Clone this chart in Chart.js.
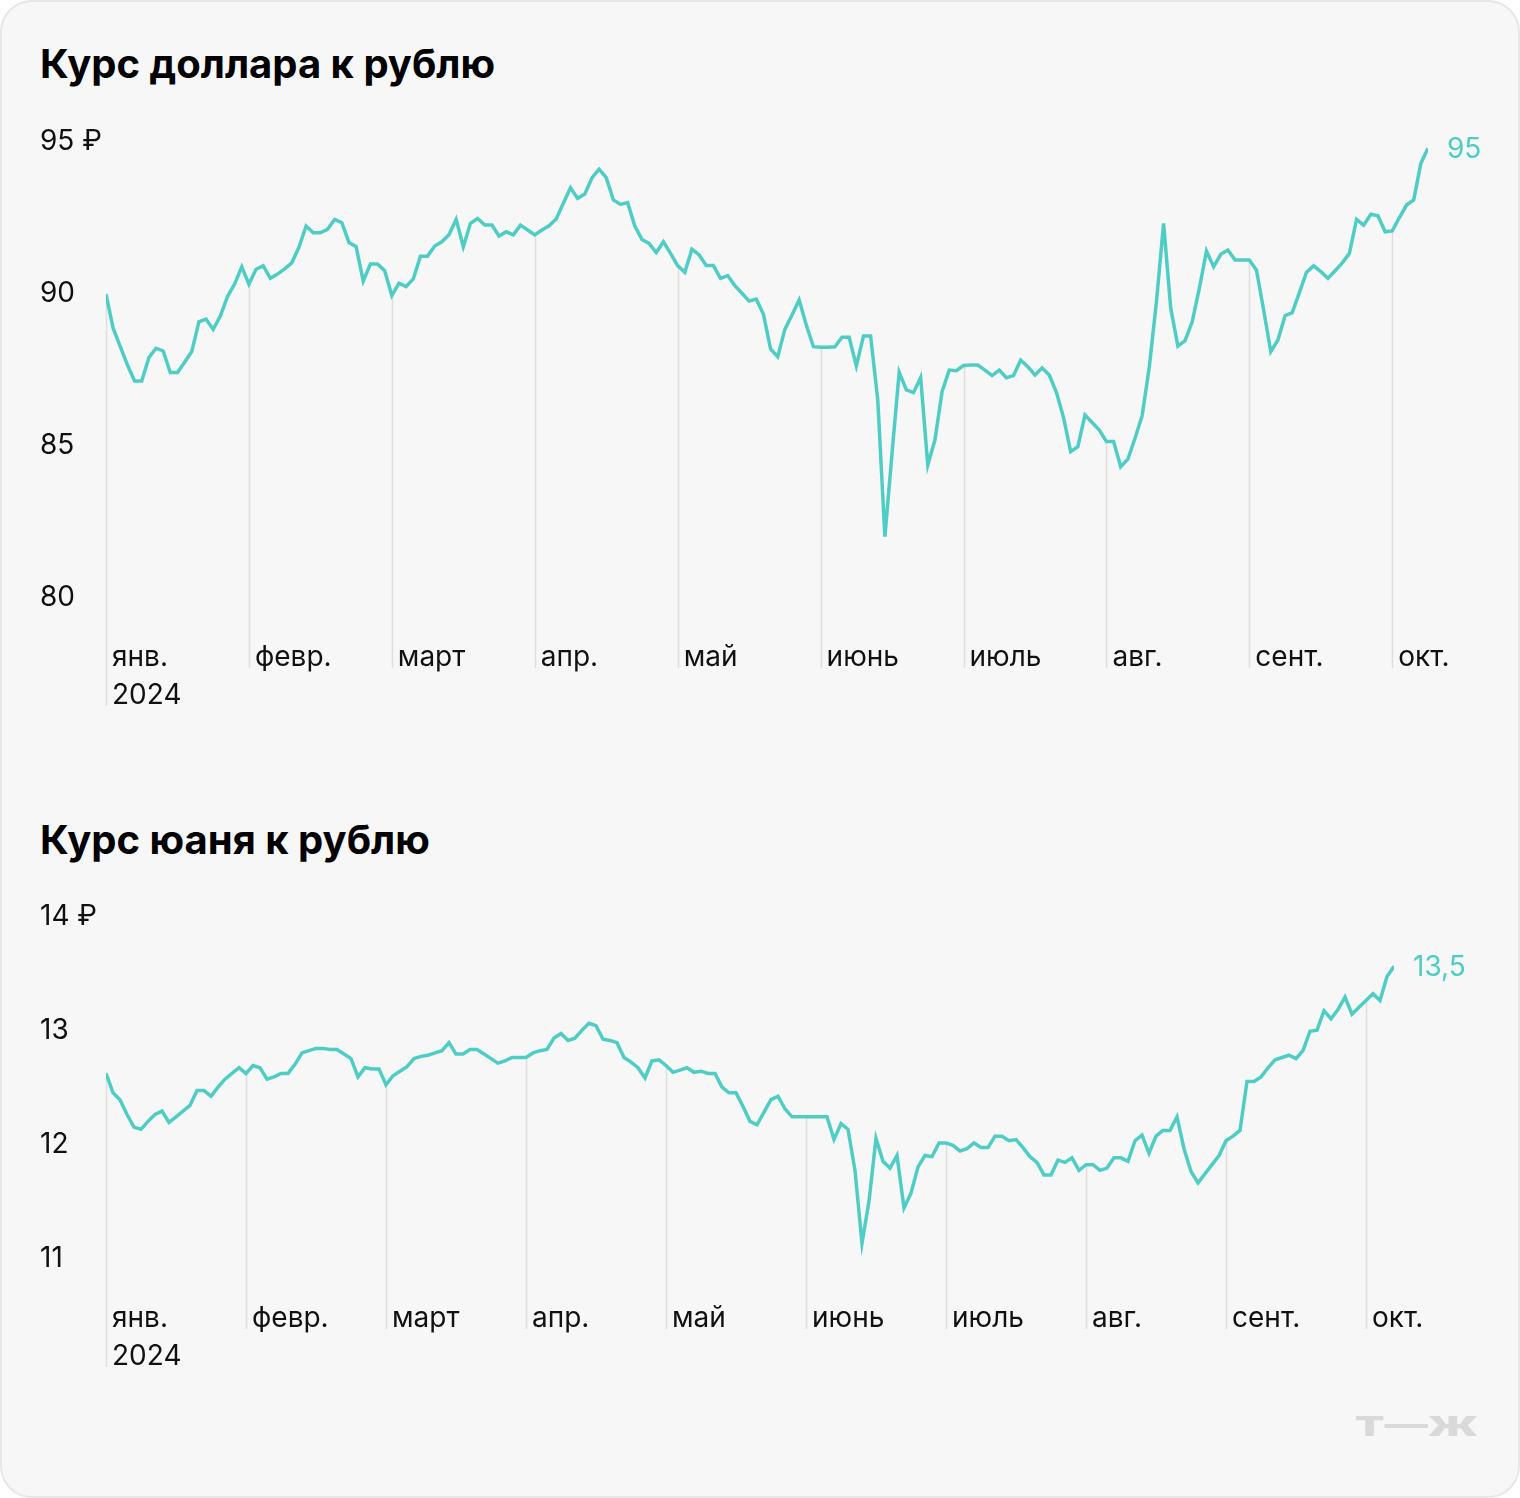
<!DOCTYPE html>
<html lang="ru">
<head>
  <meta charset="UTF-8">
  <title>Курс доллара и юаня к рублю</title>
  <script src="https://cdn.jsdelivr.net/npm/chart.js@4.4.1/dist/chart.umd.min.js"></script>
  <style>
    html, body { margin: 0; padding: 0; background: #ffffff; }
    .card {
      position: absolute; left: 0; top: 0;
      width: 1516px; height: 1494px;
      border: 2px solid #e7e7e7; border-radius: 32px;
      background: #f7f7f7; overflow: hidden;
    }
    .title {
      position: absolute; left: 38px; margin: 0;
      font-family: Inter, sans-serif; font-weight: 700;
      font-size: 40px; line-height: 40px; color: #000;
    }
    canvas { position: absolute; left: -2px; }
    .logo {
      position: absolute; right: 40px; top: 1408px;
      font-family: Inter, sans-serif; font-weight: 900; font-size: 27px;
      color: #d9d9d9; transform: scaleX(1.6); transform-origin: right center;
    }
  </style>
</head>
<body>
<div class="card">
  <h2 class="title" style="top:42px">Курс доллара к рублю</h2>
  <canvas id="usdChart" width="1520" height="640" style="top:98px"></canvas>
  <h2 class="title" style="top:818px">Курс юаня к рублю</h2>
  <canvas id="cnyChart" width="1520" height="526" style="top:873px"></canvas>
  <div class="logo">Т—Ж</div>
</div>
<script>
  // month labels, one tick at the first point of every month
  const monthNames = ['янв.', 'февр.', 'март', 'апр.', 'май', 'июнь', 'июль', 'авг.', 'сент.', 'окт.'];
  const yearLabel = '2024';
  const monthStarts = [0, 20, 40, 60, 80, 100, 120, 140, 160, 180];

  // USD/RUB, 2024
  const usdValues = [
    89.93, 88.81, 88.2, 87.6, 87.07, 87.07, 87.84, 88.15, 88.06, 87.35, 87.35, 87.69, 88.04, 89.02, 89.11, 88.77, 89.21, 89.85, 90.26, 90.83,
    90.26, 90.75, 90.86, 90.45, 90.59, 90.76, 90.96, 91.47, 92.17, 91.95, 91.95, 92.06, 92.39, 92.28, 91.63, 91.49, 90.36, 90.92, 90.92, 90.70,
    89.88, 90.29, 90.18, 90.43, 91.18, 91.18, 91.51, 91.65, 91.88, 92.39, 91.49, 92.26, 92.42, 92.20, 92.20, 91.84, 91.98, 91.88, 92.20, 92.04,
    91.88, 92.04, 92.18, 92.40, 92.92, 93.43, 93.08, 93.22, 93.75, 94.04, 93.76, 93.03, 92.88, 92.94, 92.17, 91.73, 91.60, 91.30, 91.65, 91.27,
    90.87, 90.65, 91.41, 91.22, 90.87, 90.87, 90.45, 90.54, 90.21, 89.96, 89.70, 89.77, 89.27, 88.13, 87.87, 88.77, 89.24, 89.74, 88.91, 88.20,
    88.18, 88.18, 88.20, 88.51, 88.51, 87.57, 88.55, 88.55, 86.45, 81.95, 84.7, 87.36, 86.78, 86.69, 87.19, 84.31, 85.13, 86.72, 87.43, 87.41,
    87.58, 87.6, 87.60, 87.43, 87.25, 87.43, 87.18, 87.25, 87.76, 87.54, 87.27, 87.50, 87.27, 86.70, 85.87, 84.75, 84.91, 85.95, 85.71, 85.46,
    85.08, 85.08, 84.25, 84.50, 85.19, 85.93, 87.54, 89.68, 92.26, 89.46, 88.22, 88.40, 89.02, 90.12, 91.35, 90.83, 91.24, 91.38, 91.05, 91.05,
    91.05, 90.72, 89.41, 88.04, 88.42, 89.22, 89.32, 89.98, 90.65, 90.86, 90.67, 90.45, 90.70, 90.96, 91.27, 92.39, 92.20, 92.56, 92.51, 91.98,
    92.01, 92.45, 92.86, 93.03, 94.23, 94.73
  ];
  const usdTicks = [80, 85, 90, 95];
  const usdEndLabel = '95';

  // CNY/RUB, 2024
  const cnyValues = [
    12.61, 12.44, 12.38, 12.25, 12.14, 12.12, 12.19, 12.25, 12.28, 12.18, 12.23, 12.28, 12.33, 12.46, 12.46, 12.41, 12.49, 12.56, 12.61, 12.66,
    12.61, 12.68, 12.66, 12.56, 12.58, 12.61, 12.61, 12.69, 12.79, 12.81, 12.83, 12.83, 12.82, 12.82, 12.78, 12.74, 12.58, 12.66, 12.65, 12.65,
    12.51, 12.59, 12.63, 12.67, 12.74, 12.76, 12.77, 12.79, 12.81, 12.88, 12.78, 12.78, 12.82, 12.82, 12.78, 12.74, 12.70, 12.72, 12.75, 12.75,
    12.75, 12.79, 12.81, 12.82, 12.92, 12.96, 12.90, 12.92, 12.99, 13.05, 13.03, 12.91, 12.90, 12.88, 12.75, 12.71, 12.66, 12.57, 12.72, 12.73,
    12.68, 12.62, 12.64, 12.66, 12.62, 12.63, 12.61, 12.61, 12.49, 12.44, 12.44, 12.32, 12.19, 12.16, 12.27, 12.38, 12.41, 12.30, 12.23, 12.23,
    12.23, 12.23, 12.23, 12.23, 12.03, 12.17, 12.12, 11.76, 11.12, 11.49, 12.04, 11.84, 11.78, 11.89, 11.43, 11.56, 11.79, 11.89, 11.88, 12.00,
    12.00, 11.98, 11.93, 11.95, 12.00, 11.96, 11.96, 12.06, 12.06, 12.02, 12.03, 11.96, 11.88, 11.83, 11.72, 11.72, 11.85, 11.83, 11.87, 11.76,
    11.81, 11.81, 11.76, 11.78, 11.87, 11.87, 11.84, 12.02, 12.07, 11.91, 12.06, 12.11, 12.11, 12.23, 11.95, 11.75, 11.65, 11.73, 11.81, 11.89,
    12.02, 12.06, 12.11, 12.54, 12.54, 12.58, 12.66, 12.73, 12.75, 12.77, 12.74, 12.81, 12.98, 12.99, 13.16, 13.09, 13.17, 13.28, 13.13, 13.19,
    13.25, 13.31, 13.25, 13.46, 13.55
  ];
  const cnyTicks = [11, 12, 13, 14];
  const cnyEndLabel = '13,5';

  const lineColor = '#4fcdc4';
  const fontFamily = 'Inter, sans-serif';

  // vertical lines from the curve down to the month labels + value at the end
  const dropLines = {
    id: 'dropLines',
    beforeDatasetsDraw(chart) {
      const { ctx, scales: { x, y }, chartArea } = chart;
      const values = chart.data.datasets[0].data;
      ctx.save();
      ctx.strokeStyle = '#dedede';
      ctx.lineWidth = 1.5;
      monthStarts.forEach((idx, i) => {
        const px = Math.round(x.getPixelForValue(idx)) + 0.5;
        const py = y.getPixelForValue(values[idx].y);
        const bottom = chartArea.bottom + (i === 0 ? 110 : 72);
        ctx.beginPath();
        ctx.moveTo(px, py);
        ctx.lineTo(px, bottom);
        ctx.stroke();
      });
      ctx.restore();
    },
    afterDatasetsDraw(chart, args, opts) {
      const { ctx, scales: { x, y } } = chart;
      const values = chart.data.datasets[0].data;
      const last = values[values.length - 1];
      ctx.save();
      ctx.fillStyle = lineColor;
      ctx.font = '28px ' + fontFamily;
      ctx.textBaseline = 'middle';
      ctx.fillText(opts.label, x.getPixelForValue(last.x) + 19, y.getPixelForValue(last.y) + 1);
      ctx.restore();
    }
  };

  function makeChart(id, values, yTicks, endLabel, padRight) {
    const ctx = document.getElementById(id).getContext('2d');
    return new Chart(ctx, {
      type: 'line',
      data: {
        datasets: [{
          data: values.map((v, i) => ({ x: i, y: v })),
          borderColor: lineColor,
          borderWidth: 3.5,
          pointRadius: 0,
          tension: 0,
          fill: false
        }]
      },
      options: {
        responsive: false,
        animation: false,
        devicePixelRatio: 1,
        layout: { padding: { left: 40, right: padRight, top: 40, bottom: 0 } },
        plugins: {
          legend: { display: false },
          tooltip: { enabled: false },
          dropLines: { label: endLabel }
        },
        scales: {
          x: {
            type: 'linear',
            min: 0,
            max: values.length - 1,
            grid: { display: false },
            border: { display: false },
            afterBuildTicks: (scale) => { scale.ticks = monthStarts.map(v => ({ value: v })); },
            afterFit: (scale) => { scale.height = 144; },
            ticks: {
              autoSkip: false,
              maxRotation: 0,
              align: 'start',
              labelOffset: 6,
              padding: 35,
              color: '#111',
              font: { family: fontFamily, size: 28, lineHeight: '38px' },
              callback: (value, index) => index === 0 ? [monthNames[0], yearLabel] : monthNames[index]
            }
          },
          y: {
            min: yTicks[0],
            max: yTicks[yTicks.length - 1],
            grid: { display: false },
            border: { display: false },
            afterBuildTicks: (scale) => { scale.ticks = yTicks.map(v => ({ value: v })); },
            afterFit: (scale) => { scale.width = 66; },
            ticks: {
              crossAlign: 'far',
              labelOffset: 2,
              color: '#111',
              font: { family: fontFamily, size: 28 },
              callback: (value) => value === yTicks[yTicks.length - 1] ? value + ' ₽' : String(value)
            }
          }
        }
      },
      plugins: [dropLines]
    });
  }

  makeChart('usdChart', usdValues, usdTicks, usdEndLabel, 92);
  makeChart('cnyChart', cnyValues, cnyTicks, cnyEndLabel, 126);
</script>
</body>
</html>
